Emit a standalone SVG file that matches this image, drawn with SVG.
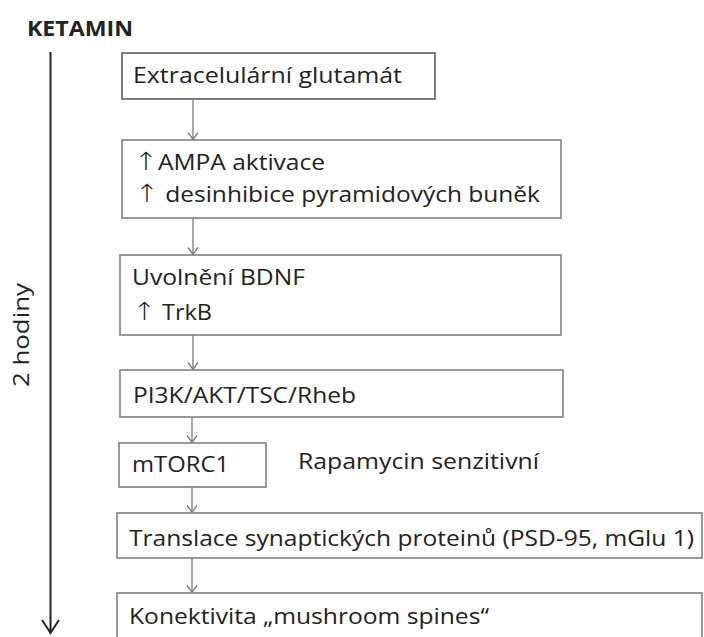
<svg xmlns="http://www.w3.org/2000/svg" width="704" height="637" viewBox="0 0 704 637">
<style>
.box{fill:#fff;stroke:#808080;stroke-width:1.6}
.t{font-family:"Open Sans","DejaVu Sans",sans-serif;font-size:21.5px;fill:#222}
.b{font-family:"Open Sans","DejaVu Sans",sans-serif;font-size:21px;font-weight:bold;fill:#222}
.up{font-family:"DejaVu Sans",sans-serif;font-size:25px;font-weight:200}
.c{fill:none;stroke:#7a7a7a;stroke-width:1.3}
</style>
<defs>
<marker id="ah" markerWidth="10" markerHeight="12" refX="8" refY="6" orient="auto" markerUnits="userSpaceOnUse" viewBox="0 0 10 12">
<path d="M1,1 L8,6 L1,11" fill="none" stroke="#7a7a7a" stroke-width="1.3"/>
</marker>
</defs>
<rect width="704" height="637" fill="#fff"/>
<g id="ketamin"><text class="b" x="27" y="36" textLength="106" lengthAdjust="spacingAndGlyphs">KETAMIN</text></g>
<g id="timeline">
<line x1="50.5" y1="52" x2="50.5" y2="633" stroke="#222" stroke-width="2"/>
<path d="M42,620 L50.5,633 L59,620" fill="none" stroke="#222" stroke-width="2"/>
<text class="t" transform="translate(29,387) rotate(-90)" x="0" y="0" textLength="104" lengthAdjust="spacingAndGlyphs">2 hodiny</text>
</g>
<g id="connectors">
<line class="c" x1="193" y1="99" x2="193" y2="139.5" marker-end="url(#ah)"/>
<line class="c" x1="193" y1="218" x2="193" y2="254.5" marker-end="url(#ah)"/>
<line class="c" x1="193" y1="335" x2="193" y2="369.5" marker-end="url(#ah)"/>
<line class="c" x1="192" y1="417" x2="192" y2="442.5" marker-end="url(#ah)"/>
<line class="c" x1="192" y1="487" x2="192" y2="512.5" marker-end="url(#ah)"/>
<line class="c" x1="192" y1="558" x2="192" y2="592.5" marker-end="url(#ah)"/>
</g>
<g id="n1">
<rect class="box" x="122" y="53" width="313" height="46" style="stroke:#606060"/>
<text class="t" x="133" y="83" textLength="269" lengthAdjust="spacingAndGlyphs">Extracelulární glutamát</text>
</g>
<g id="n2">
<rect class="box" x="122" y="140" width="439" height="78"/>
<text class="t" x="134" y="170" textLength="191" lengthAdjust="spacingAndGlyphs"><tspan class="up">↑</tspan>AMPA aktivace</text>
<text class="t" x="135" y="202" textLength="405" lengthAdjust="spacingAndGlyphs"><tspan class="up">↑</tspan> desinhibice pyramidových buněk</text>
</g>
<g id="n3">
<rect class="box" x="120" y="255" width="441" height="80"/>
<text class="t" x="132" y="285" textLength="173" lengthAdjust="spacingAndGlyphs">Uvolnění BDNF</text>
<text class="t" x="133" y="320" textLength="79" lengthAdjust="spacingAndGlyphs"><tspan class="up">↑</tspan> TrkB</text>
</g>
<g id="n4">
<rect class="box" x="120" y="370" width="443" height="47"/>
<text class="t" x="133" y="403" textLength="223" lengthAdjust="spacingAndGlyphs">PI3K/AKT/TSC/Rheb</text>
</g>
<g id="n5">
<rect class="box" x="119" y="443" width="147" height="44"/>
<text class="t" x="132" y="472" textLength="97" lengthAdjust="spacingAndGlyphs">mTORC1</text>
</g>
<g id="rapamycin">
<text class="t" x="298" y="469" textLength="241" lengthAdjust="spacingAndGlyphs">Rapamycin senzitivní</text>
</g>
<g id="n6">
<rect class="box" x="117" y="513" width="585" height="45"/>
<text class="t" x="129" y="546" textLength="565" lengthAdjust="spacingAndGlyphs">Translace synaptických proteinů (PSD-95, mGlu 1)</text>
</g>
<g id="n7">
<rect class="box" x="117" y="593" width="585" height="52"/>
<text class="t" x="129" y="624" textLength="360" lengthAdjust="spacingAndGlyphs">Konektivita „mushroom spines“</text>
</g>
</svg>
